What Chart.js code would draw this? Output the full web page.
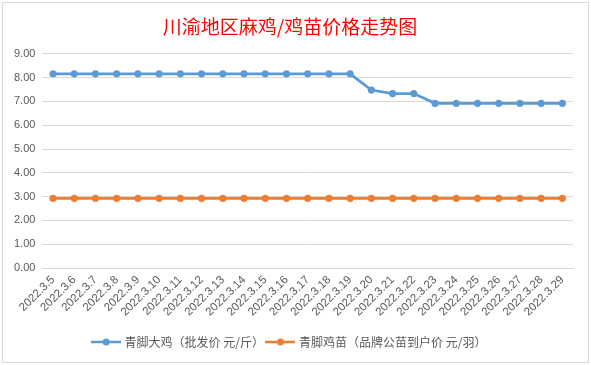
<!DOCTYPE html>
<html>
<head>
<meta charset="utf-8">
<script src="https://cdn.jsdelivr.net/npm/chart.js@4"></script>
<style>
  html, body { margin: 0; padding: 0; background: #ffffff; }
  #box {
    position: absolute; left: 2px; top: 2px;
    width: 585px; height: 359px;
    border: 1px solid #d9d9d9; background: #fff;
  }
</style>
</head>
<body>
<div id="box"><canvas id="chart" width="585" height="359"></canvas></div>
<script>
// Data
const dates = [
  '2022.3.5', '2022.3.6', '2022.3.7', '2022.3.8', '2022.3.9', '2022.3.10', '2022.3.11',
  '2022.3.12', '2022.3.13', '2022.3.14', '2022.3.15', '2022.3.16', '2022.3.17', '2022.3.18',
  '2022.3.19', '2022.3.20', '2022.3.21', '2022.3.22', '2022.3.23', '2022.3.24', '2022.3.25',
  '2022.3.26', '2022.3.27', '2022.3.28', '2022.3.29'
];
const bigChicken = [
  8.16, 8.16, 8.16, 8.16, 8.16, 8.16, 8.16, 8.16, 8.16, 8.16, 8.16, 8.16, 8.16, 8.16,
  8.16, 7.48, 7.33, 7.33, 6.92, 6.92, 6.92, 6.92, 6.92, 6.92, 6.92
];
const chick = [
  2.93, 2.93, 2.93, 2.93, 2.93, 2.93, 2.93, 2.93, 2.93, 2.93, 2.93, 2.93, 2.93, 2.93,
  2.93, 2.93, 2.93, 2.93, 2.93, 2.93, 2.93, 2.93, 2.93, 2.93, 2.93
];
const seriesNames = ['青脚大鸡（批发价 元/斤）', '青脚鸡苗（品牌公苗到户价 元/羽）'];
const colors = ['#5b9bd5', '#ed7d31'];

const CJK = '"Noto Sans CJK SC", "Noto Sans", sans-serif';

// legend marker: short line with a dot in the middle (Excel style)
function legendMarker(color) {
  const c = document.createElement('canvas');
  c.width = 30; c.height = 10;
  const g = c.getContext('2d');
  g.strokeStyle = color;
  g.lineWidth = 2.5;
  g.beginPath(); g.moveTo(0, 5); g.lineTo(30, 5); g.stroke();
  g.fillStyle = color;
  g.beginPath(); g.arc(15, 5, 3.5, 0, Math.PI * 2); g.fill();
  return c;
}

const ctx = document.getElementById('chart').getContext('2d');
new Chart(ctx, {
  type: 'line',
  data: {
    labels: dates,
    datasets: [bigChicken, chick].map((vals, i) => ({
      label: seriesNames[i],
      data: vals,
      borderColor: colors[i],
      backgroundColor: colors[i],
      borderWidth: 2.75,
      pointStyle: 'circle',
      pointRadius: 3.6,
      pointHoverRadius: 3.6,
      pointBorderWidth: 0,
      tension: 0,
      fill: false
    }))
  },
  options: {
    responsive: false,
    animation: false,
    layout: { padding: { left: 4, right: 15, top: 4, bottom: 4 } },
    plugins: {
      title: {
        display: true,
        text: '川渝地区麻鸡/鸡苗价格走势图',
        color: '#ff0000',
        font: { family: CJK, size: 19, weight: 'normal' },
        padding: { top: 8, bottom: 16 }
      },
      legend: {
        position: 'bottom',
        labels: {
          color: '#595959',
          font: { family: CJK, size: 12 },
          usePointStyle: true,
          pointStyleWidth: 25,
          generateLabels: chart => chart.data.datasets.map((ds, i) => ({
            text: ds.label,
            fontColor: '#595959',
            pointStyle: legendMarker(colors[i]),
            datasetIndex: i,
            lineWidth: 0,
            strokeStyle: 'transparent',
            fillStyle: colors[i]
          })),
          padding: 4
        }
      },
      tooltip: { enabled: false }
    },
    scales: {
      x: {
        offset: true,
        grid: { display: false, drawTicks: false },
        border: { color: '#d9d9d9', width: 1 },
        afterFit: scale => { scale.height += 8; },
        ticks: {
          color: '#595959',
          font: { family: '"Liberation Sans", Arial, sans-serif', size: 11.5 },
          maxRotation: 45,
          minRotation: 45,
          autoSkip: false,
          padding: 5
        }
      },
      y: {
        min: 0,
        max: 9,
        grid: { color: '#d9d9d9', drawTicks: false, lineWidth: 1 },
        border: { display: false },
        ticks: {
          stepSize: 1,
          color: '#595959',
          font: { family: '"Liberation Sans", Arial, sans-serif', size: 11 },
          padding: 7,
          callback: v => Number(v).toFixed(2)
        }
      }
    }
  }
});
</script>
</body>
</html>
